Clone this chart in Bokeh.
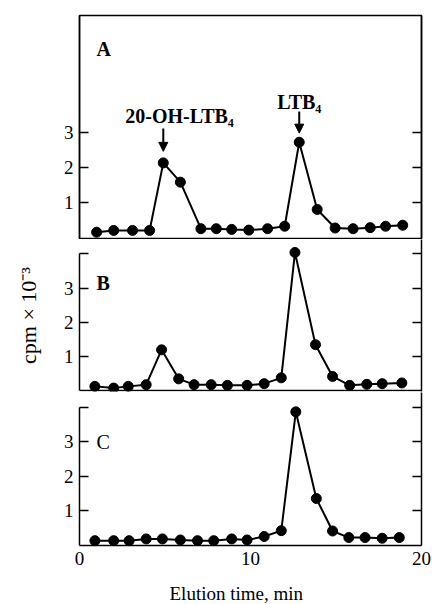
from bokeh.plotting import figure
from bokeh.layouts import column
from bokeh.models import Range1d, LinearAxis, FixedTicker, Label, Arrow, NormalHead, Span
from bokeh.core.properties import value
from bokeh.embed import file_html
from bokeh.resources import INLINE

# ---- data ----
time_a = [1.0, 2.0, 3.1, 4.1, 4.9, 5.9, 7.1, 8.0, 8.9, 9.9, 11.0, 12.0, 12.85, 13.9, 14.95, 16.0, 17.0, 17.9, 18.9]
cpm_a = [0.15, 0.2, 0.2, 0.2, 2.13, 1.58, 0.25, 0.25, 0.23, 0.21, 0.25, 0.32, 2.72, 0.8, 0.27, 0.25, 0.28, 0.32, 0.35]

time_b = [0.9, 2.0, 2.85, 3.9, 4.8, 5.8, 6.7, 7.7, 8.65, 9.8, 10.8, 11.8, 12.6, 13.8, 14.8, 15.8, 16.8, 17.7, 18.85]
cpm_b = [0.12, 0.07, 0.12, 0.17, 1.19, 0.34, 0.17, 0.17, 0.15, 0.15, 0.2, 0.37, 4.04, 1.34, 0.41, 0.15, 0.18, 0.2, 0.22]

time_c = [0.9, 2.0, 2.9, 3.9, 4.85, 5.9, 6.9, 7.85, 8.9, 9.8, 10.8, 11.8, 12.65, 13.85, 14.8, 15.75, 16.7, 17.7, 18.7]
cpm_c = [0.14, 0.14, 0.14, 0.19, 0.19, 0.16, 0.14, 0.14, 0.19, 0.16, 0.26, 0.43, 3.87, 1.36, 0.42, 0.23, 0.23, 0.21, 0.23]

x_ticks = [0, 10, 20]
y_ticks_a = [1, 2, 3]
y_ticks_bc = [1, 2, 3, 4]
panel_letters = ["A", "B", "C"]
peak_labels = ["20-OH-LTB\u2084", "LTB\u2084"]
x_title = "Elution time, min"
y_title = "cpm \u00d7 10\u207b\u00b3"

FONT = "Liberation Serif"
W = 432
LEFT, RIGHT = 79, 11
x_range = Range1d(0, 20)


def make_fig(height, y0, y1, top, bottom):
    p = figure(width=W, height=height, x_range=x_range, y_range=Range1d(y0, y1),
               output_backend="svg", toolbar_location=None,
               min_border_left=LEFT, min_border_right=RIGHT,
               min_border_top=top, min_border_bottom=bottom,
               x_axis_location=None, y_axis_location=None)
    p.grid.visible = False
    p.outline_line_color = None
    p.background_fill_color = "white"
    p.border_fill_color = "white"
    return p


def left_axis(ticks, bounds=None, hide=None):
    ax = LinearAxis(ticker=FixedTicker(ticks=ticks), major_tick_in=9, major_tick_out=0,
                    minor_tick_line_color=None, axis_line_width=1.5, major_tick_line_width=1.5,
                    major_label_text_font=FONT, major_label_text_font_size="19px",
                    major_label_text_color="black", major_label_standoff=6)
    if bounds is not None:
        ax.bounds = bounds
    if hide is not None:
        ax.major_label_overrides = {hide: ""}
    return ax


def right_axis(ticks):
    return LinearAxis(ticker=FixedTicker(ticks=ticks), major_tick_in=9, major_tick_out=0,
                      minor_tick_line_color=None, axis_line_width=1.5, major_tick_line_width=1.5,
                      major_label_text_color=None, major_label_text_font_size="6px",
                      major_label_standoff=0)


def series(p, t, v):
    p.line(t, v, line_color="black", line_width=2)
    p.scatter(t, v, size=10, fill_color="black", line_color="black")


def txt(p, x, y, text, size="19px", style="normal", align="left", baseline="alphabetic"):
    p.add_layout(Label(x=x, y=y, text=text, text_font=FONT, text_font_size=size,
                       text_font_style=style, text_align=align, text_baseline=baseline,
                       text_color="black"))


# ---- panel A ----
pA = make_fig(239, -0.03, 6.34, 15, 1)
pA.outline_line_color = "black"
pA.outline_line_width = 1.5
pA.add_layout(left_axis(y_ticks_a), "left")
pA.add_layout(right_axis(y_ticks_a), "right")
series(pA, time_a, cpm_a)
txt(pA, 1.0, 5.37, panel_letters[0], size="20px", style="bold")
i1 = cpm_a.index(max(cpm_a[:10]))
i2 = cpm_a.index(max(cpm_a))
for idx, lab, d_lab, d_start, d_end, dx in [(i1, peak_labels[0], 1.33, 0.98, 0.33, 0.95),
                                             (i2, peak_labels[1], 1.14, 0.88, 0.26, 0.0)]:
    xp, yp = time_a[idx], cpm_a[idx]
    pA.add_layout(Arrow(end=NormalHead(size=9, fill_color="black", line_color="black", line_width=1),
                        x_start=xp, y_start=yp + d_start, x_end=xp, y_end=yp + d_end,
                        line_width=2, line_color="black"))
    txt(pA, xp + dx, yp + d_lab, lab, size="20px", style="bold", align="center")

# ---- panel B ----
pB = make_fig(153, -0.03, 4.42, 0, 1)
pB.add_layout(left_axis(y_ticks_bc, bounds=(0, 4), hide=4), "left")
# invisible outer axis that only carries the shared y title
title_axis = LinearAxis(ticker=FixedTicker(ticks=[]), bounds=(2.0, 4.32),
                        axis_line_color=None, major_tick_line_color=None, minor_tick_line_color=None,
                        major_label_text_font_size="0px", major_label_standoff=0,
                        axis_label=y_title, axis_label_text_font=FONT, axis_label_text_font_size="22px",
                        axis_label_text_font_style="normal", axis_label_text_color="black",
                        axis_label_standoff=20)
pB.add_layout(title_axis, "left")
pB.add_layout(right_axis(y_ticks_bc), "right")
pB.add_layout(Span(location=0, dimension="width", line_color="black", line_width=1.5))
series(pB, time_b, cpm_b)
txt(pB, 1.0, 3.15, panel_letters[1], size="20px", style="bold")

# ---- panel C ----
pC = make_fig(182, 0, 4.43, 0, 29)
pC.add_layout(left_axis(y_ticks_bc, bounds=(0, 4), hide=4), "left")
pC.add_layout(right_axis(y_ticks_bc), "right")
xa = LinearAxis(ticker=FixedTicker(ticks=x_ticks), major_tick_in=0, major_tick_out=0,
                minor_tick_line_color=None, axis_line_width=1.5,
                major_label_text_font=FONT, major_label_text_font_size="19px",
                major_label_text_color="black", major_label_standoff=6)
pC.add_layout(xa, "below")
series(pC, time_c, cpm_c)
txt(pC, 1.0, 3.0, panel_letters[2], size="20px")

# ---- x title strip (below the panels) ----
px = figure(width=W, height=30, x_range=Range1d(0, W), y_range=Range1d(30, 0),
            output_backend="svg", toolbar_location=None, min_border=0,
            x_axis_location=None, y_axis_location=None)
px.grid.visible = False
px.outline_line_color = None
px.text(x=[198], y=[19], text=[x_title], text_font=value(FONT), text_font_size="19px",
        text_align="center", text_baseline="middle", text_color="black")

layout = column(pA, pB, pC, px, spacing=0)
open("out.html", "w").write(file_html(layout, INLINE))
